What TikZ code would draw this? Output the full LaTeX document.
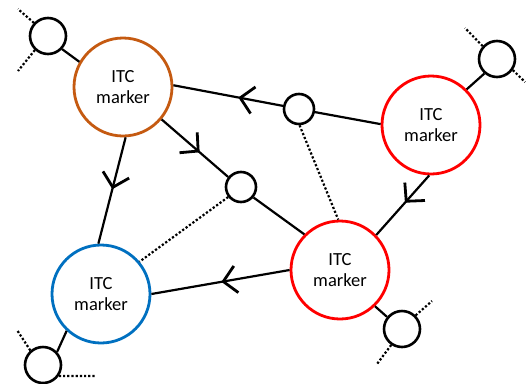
\documentclass[tikz,border=0pt]{standalone}
\usepackage{fontspec}
\setmainfont{Carlito}
\usetikzlibrary{decorations.markings}
\definecolor{itcorange}{HTML}{C55A11}
\definecolor{itcred}{HTML}{FF0000}
\definecolor{itcblue}{HTML}{0070C0}
\tikzset{
 marker/.style={circle, draw=#1, line width=2.8pt, minimum size=98pt, inner sep=0pt, align=center, font=\fontsize{18.5}{21.7}\selectfont, fill=white},
 hub/.style={circle, draw=black, line width=2.6pt, minimum size=#1, inner sep=0pt, fill=white},
 link/.style={line width=2.2pt},
 dotlink/.style={line width=2.2pt, dash pattern=on 2.2pt off 2pt},
 chev/.style={postaction={decorate}, decoration={markings, mark=at position #1 with {\draw[line width=2.8pt, solid] (-13pt,13.5pt) -- (0pt,0pt) -- (-13pt,-13.5pt);}}}
}
\begin{document}
\begin{tikzpicture}[x=1pt,y=-1pt]
\useasboundingbox (0,0) rectangle (526,383);
\node[marker=itcorange] (O) at (123,87) {ITC\\marker};
\node[marker=itcred] (R1) at (431,125) {ITC\\marker};
\node[marker=itcblue] (B) at (101,294) {ITC\\marker};
\node[marker=itcred] (R2) at (340,270) {ITC\\marker};
\node[hub=36pt] (s1) at (48,36) {};
\node[hub=36pt] (s2) at (497,59) {};
\node[hub=30pt] (s3) at (299,109) {};
\node[hub=30pt] (s4) at (241,187) {};
\node[hub=36pt] (s5) at (43,365) {};
\node[hub=36pt] (s6) at (402,329) {};
\coordinate (e1a) at (18,9);
\coordinate (e1b) at (18,71);
\coordinate (e2a) at (465,28);
\coordinate (e2b) at (525,82);
\coordinate (e5a) at (17,330);
\coordinate (e5b) at (95,376);
\coordinate (e6a) at (432,301);
\coordinate (e6b) at (377,364);
\draw[dotlink] (s1.137) -- (e1a);
\draw[dotlink] (s1.227) -- (e1b);
\draw[dotlink] (s2.138) -- (e2a);
\draw[dotlink] (s2.-35) -- (e2b);
\draw[dotlink] (s5.131) -- (e5a);
\draw[dotlink] (s5.-35) -- (e5b);
\draw[dotlink] (s6.45) -- (e6a);
\draw[dotlink] (s6.236) -- (e6b);
\draw[link] (s1.-43) -- (O.150);
\draw[link] (s2.229) -- (R1.45);
\draw[link] (s5.43) -- (B.227);
\draw[link] (s6.141) -- (R2.-46);
\draw[link, chev=0.39] (s3.169) -- (O.2);
\draw[link] (s3.-11) -- (R1.179);
\draw[link, chev=0.55] (O.-40) -- (s4.142);
\draw[link] (s4.-40) -- (R2.135);
\draw[link, chev=0.47] (O.-87) -- (B.93);
\draw[link, chev=0.435] (R1.-92) -- (R2.44);
\draw[link, chev=0.48] (R2.180) -- (B.0);
\draw[dotlink] (s3.-88) -- (R2.92);
\draw[dotlink] (s4.218) -- (B.40);
\end{tikzpicture}
\end{document}
